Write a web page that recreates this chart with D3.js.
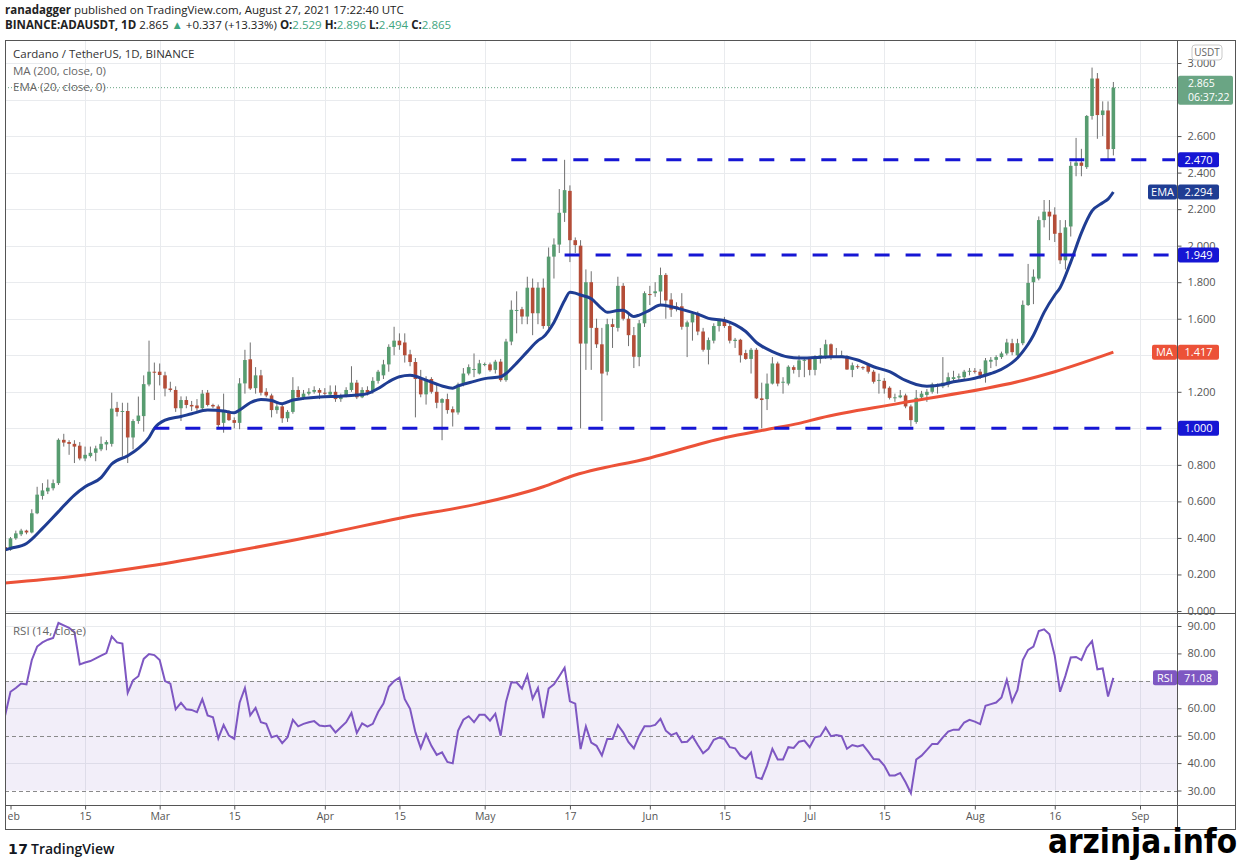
<!DOCTYPE html>
<html>
<head>
<meta charset="utf-8">
<script src="https://cdn.jsdelivr.net/npm/d3@7"></script>
<style>
  body { margin: 0; background: #fff; }
  svg { display: block; font-family: "Open Sans", "Noto Sans", sans-serif; }
</style>
</head>
<body>
<svg id="chart" width="1240" height="864"></svg>
<script>
// ADA/USDT daily candles, Jan 31 - Aug 27 2021
const firstDay = '2021-01-31';

const opens = [
  0.350,0.335,0.398,0.420,0.440,0.430,0.535,0.630,0.655,0.672,
  0.700,0.937,0.925,0.915,0.905,0.835,0.848,0.866,0.885,0.912,
  0.915,1.112,1.090,1.095,0.950,1.040,1.067,1.240,1.310,1.310,
  1.290,1.218,1.210,1.110,1.155,1.128,1.125,1.110,1.195,1.128,
  1.120,1.030,1.090,1.045,1.030,1.246,1.378,1.220,1.290,1.200,
  1.180,1.100,1.120,1.055,1.090,1.210,1.170,1.190,1.200,1.210,
  1.195,1.185,1.200,1.160,1.180,1.210,1.250,1.170,1.210,1.200,
  1.260,1.290,1.350,1.446,1.480,1.470,1.405,1.363,1.270,1.186,
  1.270,1.200,1.140,1.160,1.105,1.087,1.240,1.300,1.320,1.300,
  1.350,1.350,1.320,1.365,1.264,1.475,1.645,1.652,1.612,1.770,
  1.630,1.770,1.560,1.940,2.006,2.180,2.300,2.030,2.000,1.464,
  1.800,1.550,1.460,1.310,1.570,1.550,1.780,1.600,1.510,1.390,
  1.575,1.735,1.740,1.749,1.840,1.705,1.668,1.668,1.556,1.580,
  1.630,1.530,1.430,1.480,1.560,1.590,1.560,1.478,1.485,1.412,
  1.380,1.430,1.164,1.160,1.245,1.355,1.250,1.245,1.335,1.320,
  1.372,1.380,1.320,1.380,1.390,1.460,1.390,1.395,1.395,1.320,
  1.340,1.335,1.345,1.310,1.260,1.260,1.222,1.167,1.170,1.180,
  1.120,1.035,1.170,1.183,1.200,1.235,1.230,1.240,1.270,1.278,
  1.280,1.310,1.315,1.310,1.290,1.365,1.375,1.390,1.410,1.466,
  1.400,1.466,1.675,1.800,1.820,2.140,2.186,2.170,2.070,1.920,
  2.105,2.437,2.455,2.430,2.710,2.915,2.715,2.740,2.529
];
const highs = [
  0.360,0.405,0.440,0.450,0.445,0.557,0.680,0.700,0.720,0.720,
  0.945,0.970,0.935,0.935,0.925,0.900,0.900,0.905,0.955,0.935,
  1.195,1.145,1.140,1.140,1.050,1.174,1.290,1.480,1.360,1.355,
  1.310,1.255,1.230,1.175,1.175,1.150,1.160,1.210,1.210,1.135,
  1.130,1.190,1.100,1.060,1.275,1.430,1.470,1.335,1.320,1.220,
  1.190,1.140,1.130,1.100,1.280,1.230,1.210,1.220,1.230,1.220,
  1.220,1.235,1.235,1.190,1.225,1.340,1.265,1.225,1.230,1.280,
  1.320,1.375,1.460,1.556,1.520,1.520,1.430,1.385,1.320,1.285,
  1.280,1.240,1.165,1.190,1.120,1.250,1.330,1.350,1.410,1.375,
  1.360,1.360,1.375,1.380,1.490,1.700,1.750,1.665,1.830,1.820,
  1.800,1.820,1.990,2.040,2.310,2.470,2.330,2.045,2.030,1.870,
  1.860,1.600,1.550,1.600,1.600,1.830,1.795,1.620,1.555,1.593,
  1.750,1.780,1.800,1.880,1.850,1.740,1.690,1.740,1.590,1.640,
  1.640,1.550,1.497,1.575,1.600,1.610,1.575,1.495,1.490,1.430,
  1.440,1.440,1.250,1.300,1.390,1.365,1.280,1.345,1.345,1.400,
  1.385,1.390,1.400,1.440,1.485,1.465,1.440,1.425,1.400,1.360,
  1.350,1.340,1.355,1.320,1.300,1.275,1.230,1.190,1.210,1.190,
  1.130,1.210,1.205,1.215,1.250,1.245,1.390,1.305,1.315,1.300,
  1.320,1.330,1.330,1.325,1.385,1.390,1.400,1.420,1.490,1.490,
  1.490,1.700,1.900,1.870,2.160,2.250,2.250,2.210,2.140,2.140,
  2.460,2.590,2.530,2.715,2.975,2.945,2.790,2.790,2.896
];
const lows = [
  0.310,0.330,0.390,0.410,0.420,0.425,0.530,0.610,0.640,0.660,
  0.690,0.900,0.855,0.810,0.825,0.820,0.840,0.820,0.875,0.880,
  0.900,1.065,0.845,0.810,0.885,1.025,0.982,1.230,1.155,1.235,
  1.175,1.200,1.090,1.040,1.110,1.095,1.095,1.095,1.120,1.110,
  1.005,0.976,1.040,1.000,0.995,1.190,1.210,1.190,1.180,1.170,
  1.060,1.080,1.030,1.035,1.080,1.155,1.155,1.180,1.190,1.160,
  1.180,1.175,1.145,1.145,1.170,1.200,1.160,1.165,1.180,1.190,
  1.245,1.270,1.310,1.400,1.430,1.360,1.340,1.060,1.170,1.130,
  1.190,1.110,0.935,1.080,1.010,1.075,1.230,1.290,1.280,1.295,
  1.340,1.310,1.300,1.255,1.255,1.455,1.520,1.570,1.570,1.510,
  1.570,1.545,1.545,1.820,1.960,2.130,1.910,1.960,1.000,1.320,
  1.320,1.440,1.040,1.290,1.440,1.530,1.590,1.450,1.330,1.340,
  1.555,1.675,1.720,1.680,1.600,1.610,1.640,1.540,1.390,1.480,
  1.510,1.420,1.350,1.465,1.530,1.550,1.465,1.440,1.360,1.375,
  1.300,1.160,1.000,1.100,1.240,1.230,1.190,1.235,1.300,1.280,
  1.280,1.290,1.290,1.355,1.380,1.375,1.385,1.385,1.320,1.280,
  1.325,1.320,1.300,1.245,1.190,1.190,1.158,1.145,1.165,1.110,
  1.010,1.025,1.155,1.145,1.190,1.190,1.220,1.225,1.260,1.265,
  1.265,1.290,1.300,1.270,1.250,1.330,1.340,1.380,1.400,1.400,
  1.380,1.455,1.670,1.680,1.810,2.100,2.030,2.020,1.900,1.870,
  2.050,2.380,2.380,2.420,2.690,2.585,2.600,2.470,2.494
];
const closes = [
  0.335,0.398,0.425,0.440,0.430,0.535,0.637,0.660,0.675,0.700,
  0.937,0.922,0.915,0.900,0.835,0.855,0.866,0.890,0.915,0.925,
  1.108,1.090,1.095,0.950,1.040,1.070,1.242,1.310,1.305,1.292,
  1.218,1.210,1.110,1.155,1.128,1.120,1.110,1.190,1.128,1.120,
  1.018,1.090,1.045,1.030,1.246,1.374,1.218,1.290,1.195,1.180,
  1.100,1.120,1.055,1.090,1.210,1.170,1.190,1.200,1.210,1.195,
  1.190,1.200,1.160,1.180,1.210,1.250,1.170,1.210,1.195,1.260,
  1.310,1.350,1.446,1.480,1.455,1.400,1.363,1.270,1.186,1.270,
  1.200,1.140,1.160,1.100,1.087,1.240,1.300,1.335,1.325,1.356,
  1.352,1.318,1.365,1.264,1.475,1.649,1.648,1.612,1.770,1.630,
  1.770,1.560,1.940,2.006,2.180,2.304,2.030,2.003,1.464,1.800,
  1.550,1.460,1.300,1.570,1.555,1.780,1.600,1.510,1.392,1.575,
  1.740,1.730,1.750,1.839,1.700,1.650,1.660,1.556,1.580,1.630,
  1.530,1.430,1.483,1.560,1.590,1.560,1.480,1.485,1.400,1.380,
  1.430,1.164,1.155,1.245,1.355,1.245,1.255,1.337,1.320,1.372,
  1.375,1.320,1.385,1.400,1.460,1.390,1.395,1.400,1.322,1.345,
  1.335,1.330,1.310,1.255,1.265,1.218,1.167,1.170,1.180,1.120,
  1.045,1.167,1.190,1.200,1.240,1.230,1.250,1.280,1.280,1.285,
  1.310,1.315,1.310,1.290,1.372,1.375,1.390,1.410,1.470,1.417,
  1.466,1.676,1.796,1.830,2.140,2.186,2.160,2.065,1.920,2.100,
  2.437,2.455,2.437,2.710,2.915,2.715,2.740,2.528,2.865
];

// RSI(14) per day, same dates as the candles
const rsiValues = [
  57.4,66.0,67.4,69.0,68.7,77.6,82.5,84.0,85.0,85.6,
  91.1,90.2,89.3,87.8,76.0,76.7,77.2,78.2,79.2,80.1,
  86.2,84.0,83.6,65.6,70.2,71.7,78.0,79.8,79.4,77.6,
  69.9,69.0,59.6,62.0,59.6,59.4,58.6,63.3,57.4,56.7,
  49.0,53.9,50.0,48.8,62.0,67.4,57.4,60.1,54.9,54.3,
  49.4,50.0,47.3,49.4,55.8,53.4,54.3,54.9,55.3,53.7,
  53.4,53.7,51.2,53.1,54.9,58.3,51.0,54.5,53.3,54.3,
  58.6,61.7,67.8,69.9,71.2,63.3,59.8,51.2,45.5,50.6,
  46.3,43.0,43.9,40.4,39.9,51.8,55.8,57.1,54.9,57.6,
  57.6,55.5,58.0,50.0,62.3,69.4,69.4,67.2,72.1,63.5,
  67.4,56.4,67.2,68.7,71.7,74.8,62.5,61.7,45.1,53.4,
  47.5,46.3,42.8,48.8,48.8,53.9,51.2,47.6,45.4,50.0,
  53.4,53.4,53.9,56.1,51.8,50.2,51.0,47.6,47.8,49.8,
  46.6,43.6,45.2,48.5,49.3,48.8,45.8,45.4,42.7,41.5,
  43.9,34.8,34.2,39.1,45.2,41.3,41.3,45.8,45.5,47.8,
  48.2,45.8,49.4,49.8,53.0,49.8,50.2,49.8,45.2,46.6,
  46.1,46.6,44.2,41.5,41.3,39.1,35.5,35.5,36.4,33.0,
  29.0,41.3,42.7,44.8,47.0,47.0,49.4,51.5,52.2,52.2,
  54.8,55.8,55.1,54.2,60.9,61.5,62.1,63.9,70.4,62.4,
  66.7,77.6,81.3,82.5,88.2,88.8,87.0,79.1,66.0,71.8,
  78.5,78.7,77.6,82.1,84.5,74.2,74.5,64.3,71.08
];

// EMA 20 read at sample dates
const emaDates = [
  '2021-01-31','2021-02-01','2021-02-04','2021-02-07','2021-02-10','2021-02-13','2021-02-15','2021-02-18',
  '2021-02-20','2021-02-23','2021-02-25','2021-02-27','2021-02-28','2021-03-02','2021-03-05','2021-03-07',
  '2021-03-10','2021-03-13','2021-03-15','2021-03-16','2021-03-18','2021-03-20','2021-03-22','2021-03-24',
  '2021-03-26','2021-03-28','2021-03-31','2021-04-04','2021-04-07','2021-04-09','2021-04-11','2021-04-13',
  '2021-04-15','2021-04-17','2021-04-20','2021-04-23','2021-04-25','2021-04-26','2021-04-29','2021-05-01',
  '2021-05-04','2021-05-05','2021-05-07','2021-05-09','2021-05-11','2021-05-12','2021-05-14','2021-05-16',
  '2021-05-17','2021-05-18','2021-05-19','2021-05-21','2021-05-23','2021-05-24','2021-05-26','2021-05-27',
  '2021-05-29','2021-05-30','2021-06-01','2021-06-03','2021-06-05','2021-06-07','2021-06-10','2021-06-12',
  '2021-06-15','2021-06-17','2021-06-19','2021-06-21','2021-06-22','2021-06-24','2021-06-27','2021-06-29',
  '2021-07-02','2021-07-05','2021-07-07','2021-07-10','2021-07-13','2021-07-16','2021-07-19','2021-07-21',
  '2021-07-23','2021-07-26','2021-07-28','2021-07-31','2021-08-02','2021-08-04','2021-08-05','2021-08-07',
  '2021-08-08','2021-08-09','2021-08-10','2021-08-11','2021-08-12','2021-08-14','2021-08-16','2021-08-17',
  '2021-08-19','2021-08-21','2021-08-23','2021-08-25','2021-08-26','2021-08-27'
];
const emaValues = [
  0.335,0.343,0.370,0.452,0.544,0.635,0.680,0.730,
  0.805,0.850,0.890,0.950,1.000,1.045,1.065,1.080,
  1.100,1.095,1.085,1.100,1.140,1.158,1.152,1.135,
  1.155,1.164,1.172,1.176,1.182,1.190,1.218,1.255,
  1.282,1.290,1.264,1.232,1.220,1.232,1.257,1.272,
  1.282,1.300,1.357,1.420,1.480,1.500,1.580,1.700,
  1.745,1.740,1.730,1.710,1.655,1.635,1.645,1.647,
  1.612,1.620,1.647,1.675,1.666,1.651,1.625,1.602,
  1.590,1.568,1.530,1.470,1.450,1.420,1.390,1.385,
  1.388,1.392,1.392,1.374,1.337,1.310,1.262,1.240,
  1.231,1.240,1.255,1.268,1.282,1.300,1.310,1.340,
  1.360,1.385,1.420,1.460,1.510,1.635,1.730,1.770,
  1.910,2.070,2.190,2.235,2.255,2.294
];

// MA 200 read at sample dates
const maDates = [
  '2021-01-31','2021-02-13','2021-02-27','2021-03-15','2021-04-01','2021-04-15','2021-04-30','2021-05-12',
  '2021-05-17','2021-06-01','2021-06-15','2021-06-23','2021-06-29','2021-07-03','2021-07-18','2021-08-10',
  '2021-08-16','2021-08-27'
];
const maValues = [
  0.153,0.190,0.246,0.327,0.422,0.508,0.588,0.680,
  0.735,0.838,0.948,0.994,1.027,1.057,1.138,1.262,
  1.310,1.417
];

// horizontal levels drawn on the chart
const levelValues = [2.470, 1.949, 1.000];
const levelStarts = ['2021-05-06', '2021-05-16', '2021-02-28'];

const priceTicks = [0, 0.2, 0.4, 0.6, 0.8, 1.0, 1.2, 1.4, 1.6, 1.8, 2.0, 2.2, 2.4, 2.6, 2.8, 3.0];
const hiddenPriceTicks = [1.0, 1.4, 2.8];   // covered by tags on the scale
const rsiTicks = [90, 80, 70, 60, 50, 40, 30];
const hiddenRsiTicks = [70];
const timeTicks = ['2021-02-01','2021-02-15','2021-03-01','2021-03-15','2021-04-01','2021-04-15','2021-05-01',
  '2021-05-17','2021-06-01','2021-06-15','2021-07-01','2021-07-15','2021-08-01','2021-08-16','2021-09-01'];
const timeLabels = ['Feb','15','Mar','15','Apr','15','May','17','Jun','15','Jul','15','Aug','16','Sep'];

const lastPrice = 2.865, lastEma = 2.294, lastMa = 1.417, lastRsi = 71.08;

// ---------------------------------------------------------------
const parse = d3.utcParse('%Y-%m-%d');
const svg = d3.select('#chart');

const left = 5, right = 1177, frameRight = 1235;
const priceTop = 40, priceBottom = 613, rsiTop = 614, rsiBottom = 805, frameBottom = 829;

const upColor = '#579c70', downColor = '#b44d38';
const blue = '#1616d4', navy = '#1f3d93', red = '#ec5238', purple = '#7e57c2';
const grid = '#e9ebee';

const x = d3.scaleUtc()
            .domain([parse('2021-02-01'), parse('2021-09-01')])
            .range([10.5, 1140]);
const y = d3.scaleLinear().domain([0, 3]).range([611, 63]);
const yR = d3.scaleLinear().domain([30, 90]).range([790.5, 626]);

const start = parse(firstDay);
const candles = opens.map((o, i) => ({
  d: d3.utcDay.offset(start, i), o, h: highs[i], l: lows[i], c: closes[i], r: rsiValues[i]
}));

svg.append('rect').attr('width', 1240).attr('height', 864).attr('fill', '#fff');

const defs = svg.append('defs');
defs.append('clipPath').attr('id', 'clipPrice')
    .append('rect').attr('x', left).attr('y', priceTop).attr('width', right - left).attr('height', priceBottom - priceTop);
defs.append('clipPath').attr('id', 'clipRsi')
    .append('rect').attr('x', left).attr('y', rsiTop).attr('width', right - left).attr('height', rsiBottom - rsiTop);
defs.append('clipPath').attr('id', 'clipAxis')
    .append('rect').attr('x', 8).attr('y', rsiBottom).attr('width', right - 8).attr('height', frameBottom - rsiBottom);

// grid
const gridG = svg.append('g').attr('stroke', grid).attr('stroke-width', 1);
gridG.selectAll('line.h').data(priceTicks).join('line')
     .attr('x1', left).attr('x2', right)
     .attr('y1', d => Math.round(y(d)) + 0.5).attr('y2', d => Math.round(y(d)) + 0.5);
gridG.selectAll('line.r').data([90, 80, 60, 40]).join('line')
     .attr('x1', left).attr('x2', right)
     .attr('y1', d => Math.round(yR(d)) + 0.5).attr('y2', d => Math.round(yR(d)) + 0.5);
gridG.selectAll('line.v').data(timeTicks.slice(1)).join('line')
     .attr('x1', d => Math.round(x(parse(d))) + 0.5).attr('x2', d => Math.round(x(parse(d))) + 0.5)
     .attr('y1', priceTop).attr('y2', rsiBottom);

// RSI band and guide lines
svg.append('rect')
   .attr('x', left).attr('width', right - left)
   .attr('y', yR(70)).attr('height', yR(30) - yR(70))
   .attr('fill', purple).attr('fill-opacity', 0.1);
svg.append('g').selectAll('line').data([70, 50, 30]).join('line')
   .attr('x1', left).attr('x2', right)
   .attr('y1', d => Math.round(yR(d)) + 0.5).attr('y2', d => Math.round(yR(d)) + 0.5)
   .attr('stroke', '#8a8a8a').attr('stroke-dasharray', '4,3');

// last price dotted line
svg.append('line')
   .attr('x1', left).attr('x2', right)
   .attr('y1', y(lastPrice)).attr('y2', y(lastPrice))
   .attr('stroke', '#6aa584').attr('stroke-dasharray', '1,2');

// candles
const cg = svg.append('g').attr('clip-path', 'url(#clipPrice)');
cg.selectAll('line.wick').data(candles).join('line')
  .attr('x1', d => x(d.d)).attr('x2', d => x(d.d))
  .attr('y1', d => y(d.h)).attr('y2', d => y(d.l))
  .attr('stroke', '#707070').attr('stroke-width', 1);
cg.selectAll('rect.body').data(candles).join('rect')
  .attr('x', d => x(d.d) - 1.8)
  .attr('width', 3.6)
  .attr('y', d => y(Math.max(d.o, d.c)))
  .attr('height', d => Math.max(1, Math.abs(y(d.o) - y(d.c))))
  .attr('fill', d => d.c >= d.o ? upColor : downColor);

// moving averages
const lineGen = d3.line().x(d => x(d[0])).y(d => y(d[1])).curve(d3.curveMonotoneX);
cg.append('path')
  .attr('d', lineGen(maDates.map((s, i) => [parse(s), maValues[i]])))
  .attr('fill', 'none').attr('stroke', red).attr('stroke-width', 3);
cg.append('path')
  .attr('d', lineGen(emaDates.map((s, i) => [parse(s), emaValues[i]])))
  .attr('fill', 'none').attr('stroke', navy).attr('stroke-width', 3);

// horizontal levels
cg.selectAll('line.level').data(levelValues).join('line')
  .attr('x1', (d, i) => x(parse(levelStarts[i])))
  .attr('x2', right - 2)
  .attr('y1', d => y(d)).attr('y2', d => y(d))
  .attr('stroke', blue).attr('stroke-width', 3).attr('stroke-dasharray', '15,16');

// RSI line
svg.append('path')
   .attr('clip-path', 'url(#clipRsi)')
   .attr('d', d3.line().x(d => x(d.d)).y(d => yR(d.r))(candles))
   .attr('fill', 'none').attr('stroke', purple).attr('stroke-width', 2);

// frame and separators
const frame = svg.append('g').attr('stroke', '#555').attr('stroke-width', 1).attr('fill', 'none');
frame.append('rect').attr('x', left + 0.5).attr('y', priceTop + 0.5)
     .attr('width', frameRight - left).attr('height', frameBottom - priceTop);
frame.append('line').attr('x1', left).attr('x2', frameRight).attr('y1', priceBottom + 0.5).attr('y2', priceBottom + 0.5);
frame.append('line').attr('x1', left).attr('x2', frameRight).attr('y1', rsiBottom + 0.5).attr('y2', rsiBottom + 0.5);
frame.append('line').attr('x1', right + 0.5).attr('x2', right + 0.5).attr('y1', priceTop).attr('y2', frameBottom);

// axes
const styleAxis = g => {
  g.select('.domain').remove();
  g.selectAll('.tick line').attr('stroke', '#555');
  g.selectAll('.tick text').attr('fill', '#555').attr('font-family', '"Open Sans", sans-serif');
};
const isHidden = (list, v) => list.some(h => Math.abs(h - v) < 1e-6);
svg.append('g')
   .attr('transform', `translate(${right + 0.5},0)`)
   .call(d3.axisRight(y).tickValues(priceTicks).tickFormat(d3.format('.3f')).tickSize(4).tickPadding(6))
   .call(styleAxis)
   .call(g => g.selectAll('.tick text').attr('font-size', 11))
   .call(g => g.selectAll('.tick text').filter(d => isHidden(hiddenPriceTicks, d)).remove());
svg.append('g')
   .attr('transform', `translate(${right + 0.5},0)`)
   .call(d3.axisRight(yR).tickValues(rsiTicks).tickFormat(d3.format('.2f')).tickSize(4).tickPadding(6))
   .call(styleAxis)
   .call(g => g.selectAll('.tick text').attr('font-size', 11))
   .call(g => g.selectAll('.tick text').filter(d => isHidden(hiddenRsiTicks, d)).remove());
svg.append('g')
   .attr('clip-path', 'url(#clipAxis)')
   .append('g')
   .attr('transform', `translate(0,${rsiBottom + 0.5})`)
   .call(d3.axisBottom(x).tickValues(timeTicks.map(parse)).tickFormat((d, i) => timeLabels[i]).tickSize(4).tickPadding(3))
   .call(styleAxis)
   .call(g => g.selectAll('.tick text').attr('font-size', 10.5));

// price tags
function tag(x0, yc, w, h, fill, label, color) {
  const g = svg.append('g');
  g.append('rect').attr('x', x0).attr('y', yc - h / 2).attr('width', w).attr('height', h)
   .attr('rx', 2).attr('fill', fill);
  g.append('text').attr('x', x0 + w / 2).attr('y', yc).attr('dy', '0.35em')
   .attr('text-anchor', 'middle').attr('font-size', 11).attr('fill', color || '#fff').text(label);
}
levelValues.forEach(v => tag(1178, y(v), 41, 15, blue, d3.format('.3f')(v)));
tag(1148, y(lastEma), 29, 15, navy, 'EMA');
tag(1178, y(lastEma), 41, 15, navy, d3.format('.3f')(lastEma));
tag(1152, y(lastMa), 25, 15, red, 'MA');
tag(1178, y(lastMa), 41, 15, red, d3.format('.3f')(lastMa));
tag(1153, yR(lastRsi), 24, 15, purple, 'RSI');
tag(1178, yR(lastRsi), 40, 15, purple, d3.format('.2f')(lastRsi));

// last price + countdown
const lp = svg.append('g');
lp.append('rect').attr('x', 1178).attr('y', y(lastPrice) - 12).attr('width', 55).attr('height', 29)
  .attr('rx', 2).attr('fill', '#6aa584');
lp.append('text').attr('x', 1188).attr('y', y(lastPrice) - 4).attr('dy', '0.35em')
  .attr('font-size', 10.5).attr('fill', '#fff').text(d3.format('.3f')(lastPrice));
lp.append('text').attr('x', 1188).attr('y', y(lastPrice) + 9.5).attr('dy', '0.35em')
  .attr('font-size', 10.5).attr('fill', '#fff').text('06:37:22');

// currency box
svg.append('rect').attr('x', 1192).attr('y', 45).attr('width', 30).attr('height', 15)
   .attr('rx', 3).attr('fill', '#fff').attr('stroke', '#c9c9c9');
svg.append('text').attr('x', 1207).attr('y', 52.5).attr('dy', '0.35em').attr('text-anchor', 'middle')
   .attr('font-size', 10).attr('fill', '#666').text('USDT');

// legends
const legend = svg.append('g').attr('font-size', 11.5);
legend.append('text').attr('x', 13).attr('y', 58).attr('fill', '#333').text('Cardano / TetherUS, 1D, BINANCE');
legend.append('text').attr('x', 13).attr('y', 75).attr('fill', '#666').text('MA (200, close, 0)');
legend.append('text').attr('x', 13).attr('y', 91).attr('fill', '#666').text('EMA (20, close, 0)');
legend.append('text').attr('x', 13).attr('y', 635).attr('fill', '#666').text('RSI (14, close)');

// header
const head1 = svg.append('text').attr('x', 5).attr('y', 14).attr('font-size', 11.5).attr('fill', '#222');
head1.append('tspan').attr('font-weight', 700).text('ranadagger');
head1.append('tspan').text(' published on TradingView.com, August 27, 2021 17:22:40 UTC');

const teal = '#3fa57f';
const head2 = svg.append('text').attr('x', 5).attr('y', 29).attr('font-size', 11.5).attr('fill', '#222');
[
  ['BINANCE:ADAUSDT, 1D', 700, '#222'], [' 2.865 ', 400, '#222'], ['▲', 400, teal],
  [' +0.337 (+13.33%) ', 400, '#222'], ['O:', 700, '#222'], ['2.529', 400, teal],
  [' H:', 700, '#222'], ['2.896', 400, teal], [' L:', 700, '#222'], ['2.494', 400, teal],
  [' C:', 700, '#222'], ['2.865', 400, teal]
].forEach(([t, w, c]) => head2.append('tspan').attr('font-weight', w).attr('fill', c).text(t));

// footer
svg.append('text').attr('x', 8).attr('y', 854).attr('font-size', 14).attr('font-weight', 900)
   .attr('letter-spacing', 0.5)
   .attr('fill', '#131722').attr('font-family', '"DejaVu Sans", sans-serif').text('17');
svg.append('text').attr('x', 31).attr('y', 854).attr('font-size', 14).attr('font-weight', 600)
   .attr('fill', '#131722').text('TradingView');
svg.append('text').attr('x', 1237).attr('y', 853).attr('text-anchor', 'end')
   .attr('font-size', 33).attr('font-weight', 700)
   .attr('textLength', 189).attr('lengthAdjust', 'spacingAndGlyphs')
   .attr('font-family', '"Liberation Sans Narrow", "DejaVu Sans Condensed", sans-serif')
   .attr('fill', '#000').text('arzinja.info');
</script>
</body>
</html>
